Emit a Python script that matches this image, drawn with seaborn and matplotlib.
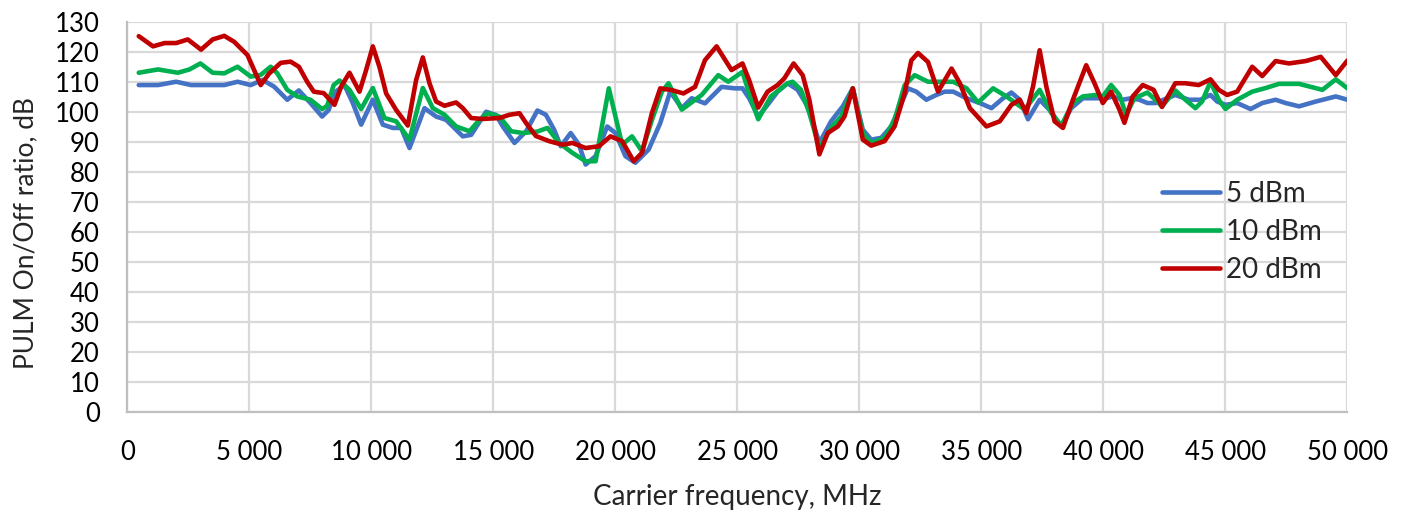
import pandas as pd
import matplotlib.pyplot as plt
import seaborn as sns

# values (frequency in MHz, ratio in dB)
freq_5 = [462, 1250, 1997, 2609, 3967, 4511, 5054, 5530, 6005, 6549, 7024, 7500, 7976, 8247,
          8484, 8893, 9235, 9576, 10055, 10464, 10874, 11216, 11557, 12172, 12650, 13060,
          13743, 14085, 14699, 15109, 15383, 15861, 16339, 16800, 17147, 17486, 17758, 18166,
          18505, 18777, 19185, 19660, 20000, 20408, 20815, 21359, 21834, 22242, 22717, 23125,
          23668, 24348, 24891, 25205, 25479, 25849, 26233, 26644, 27055, 27466, 27877, 28356,
          28836, 29315, 29726, 30137, 30479, 30890, 31301, 31712, 31986, 32329, 32740, 33151,
          33493, 33842, 34387, 34932, 35409, 35886, 36226, 36567, 36907, 37384, 37793, 38270,
          38678, 39155, 39700, 40109, 40381, 40790, 41131, 41471, 41800, 42123, 42945, 43493,
          43973, 44384, 44658, 45000, 45479, 46027, 46507, 47055, 47466, 48014, 48699, 49521,
          50000]
ratio_5 = [109, 109, 110.1, 109, 109, 110.1, 109, 110.7, 108.5, 104.1, 107.2, 103, 98.5, 100.7,
           106.5, 109, 103, 95.8, 104.1, 95.8, 94.7, 94.7, 88, 101.3, 98.5, 97.4,
           91.9, 92.4, 100.1, 99, 95.2, 89.7, 93.6, 100.5, 99.1, 94.1, 88.6, 93,
           89.1, 82.5, 85.3, 95.2, 93, 85.3, 83.1, 87.5, 96.3, 106.8, 101.3, 104.6,
           102.9, 108.4, 107.9, 107.9, 104.6, 98.5, 102.4, 106.8, 109.6, 107.4, 101.9, 89.7,
           96.9, 101.9, 107.9, 94.1, 90.8, 91.4, 95.2, 103, 107.9, 106.8, 104.1, 105.7,
           106.8, 106.8, 104.6, 103, 101.3, 104.6, 106.5, 104.1, 97.6, 104.1, 100.7, 95.2,
           101.3, 104.6, 104.6, 104.6, 105.2, 104.1, 104.6, 104.1, 103, 103, 105.7, 104.1,
           104.1, 105.7, 103.5, 102.4, 103, 101, 103, 104.1, 103, 101.9, 103.5, 105.2,
           104.1]

freq_10 = [462, 1250, 2065, 2541, 2989, 3492, 3967, 4511, 5054, 5462, 5870, 6141, 6549, 6957,
           7500, 7976, 8179, 8451, 8689, 9098, 9576, 10055, 10533, 11011, 11557, 12104, 12514,
           12992, 13470, 14016, 14426, 14768, 15246, 15724, 16202, 16800, 17215, 17690, 18234,
           18777, 19185, 19728, 20272, 20679, 21087, 21495, 21902, 22174, 22717, 23533, 24212,
           24620, 25205, 25479, 25849, 26370, 27055, 27260, 27603, 27945, 28356, 28836, 29247,
           29726, 30137, 30479, 31027, 31438, 31849, 32260, 32808, 33493, 33842, 34387, 34864,
           35477, 36022, 36771, 37384, 37861, 38270, 38747, 39155, 39700, 39973, 40313, 40654,
           40926, 41267, 41800, 42055, 42397, 42945, 43356, 43767, 44041, 44384, 44726, 45000,
           45479, 46096, 46644, 47192, 48014, 48973, 49521, 50000]
ratio_10 = [113.1, 114.2, 113.1, 114.2, 116.2, 113.1, 112.9, 115.1, 111.8, 112.4, 115.1, 112.9,
            107.4, 105.2, 104.1, 101, 102, 109, 110.5, 107.4, 101, 108, 98, 96.9, 90.8, 108,
            101.3, 99.1, 95.2, 93.6, 97.4, 99.6, 98.5, 93.6, 93, 93.5, 94.7, 89.7, 86.4,
            83.6, 83.6, 107.9, 89.1, 91.9, 86.9, 97.4, 106.8, 109.6, 100.8, 105.7, 112.3,
            110.1, 113.4, 106.2, 97.6, 105.2, 109.6, 110.1, 107.4, 99.7, 88, 94.7, 98.5,
            107.9, 93, 89.7, 91.4, 97.4, 108.9, 112.3, 110.1, 110.1, 110.1, 107.9, 103.2,
            107.9, 105.2, 100.8, 107.4, 99.7, 95.5, 103, 105.2, 105.7, 105.2, 109, 105.7,
            99.1, 104.6, 106.5, 104.6, 101.9, 107.2, 104.1, 101.3, 103.5, 110.1, 104.1, 101,
            104.1, 106.8, 108, 109.4, 109.4, 107.4, 110.9, 107.9]

freq_20 = [462, 1046, 1522, 1997, 2473, 3016, 3492, 3967, 4375, 4918, 5190, 5462, 5802, 6277,
           6685, 7024, 7364, 7636, 8043, 8484, 8757, 9098, 9508, 9781, 10055, 10328, 10601,
           11011, 11489, 11831, 12104, 12377, 12650, 12992, 13470, 13743, 14085, 14563, 15246,
           15656, 16066, 16339, 16739, 17283, 17826, 18234, 18777, 19321, 19796, 20272, 20747,
           21087, 21495, 21834, 22310, 22785, 23261, 23668, 24144, 24755, 25205, 25479, 25849,
           26233, 26644, 26918, 27301, 27671, 27945, 28356, 28699, 29110, 29384, 29726, 30137,
           30479, 31027, 31438, 31849, 32123, 32397, 32808, 33219, 33774, 34114, 34523, 35204,
           35749, 36226, 36567, 36839, 37112, 37384, 37657, 37997, 38338, 38747, 39292, 39632,
           39973, 40313, 40654, 40858, 41199, 41608, 42055, 42397, 42945, 43356, 43904, 44384,
           44726, 45068, 45479, 46096, 46507, 47055, 47603, 48288, 48904, 49521, 50000]
ratio_20 = [125.3, 121.9, 123, 123, 124.2, 120.8, 124.2, 125.4, 123.4, 119, 114, 109, 112.8, 116.4,
            116.8, 115.1, 110.1, 106.8, 106.3, 102.4, 108.5, 113.1, 106.8, 114, 121.9, 115, 106.2,
            100.7, 95.5, 110.7, 118.2, 109.6, 103.5, 102.1, 103.2, 101.3, 98, 97.7, 98,
            99.1, 99.6, 96.3, 92, 90.3, 89.1, 89.7, 88, 88.6, 91.9, 90.3, 83.6,
            86.4, 99.7, 107.9, 107.3, 106.2, 108.4, 117.3, 121.9, 114, 116.2, 110.6, 101.5,
            106.8, 109, 111.2, 116.2, 112.3, 104.1, 85.9, 93, 95.2, 98.5, 107.9, 90.8,
            88.8, 90.3, 95.2, 106.2, 117.2, 119.7, 116.7, 106.8, 114.5, 109.6, 101.3, 95.2,
            96.9, 102.4, 104.1, 99.7, 108.5, 120.6, 108.5, 96.9, 94.7, 104.1, 115.6, 109.6,
            103, 106.8, 100.8, 96.4, 105.2, 109, 107.4, 101.7, 109.6, 109.6, 109, 110.9,
            107.4, 105.7, 106.8, 115.1, 112, 117, 116.2, 117, 118.4, 112.3, 117.2]

series_names = ['5 dBm', '10 dBm', '20 dBm']
series_colors = ['#4472C4', '#00B050', '#C00000']
y_ticks = list(range(0, 131, 10))
x_ticks = list(range(0, 50001, 5000))

frames = []
for name, fx, fy in zip(series_names, [freq_5, freq_10, freq_20], [ratio_5, ratio_10, ratio_20]):
    frames.append(pd.DataFrame({'freq': fx, 'ratio': fy, 'power': name}))
df = pd.concat(frames, ignore_index=True)

sns.set_style('white')
plt.rcParams['font.family'] = ['Lato', 'DejaVu Sans']

fig = plt.figure(figsize=(14.07, 5.30), dpi=100)
ax = fig.add_axes([0.0906, 0.2226, 0.8671, 0.7358])

sns.lineplot(data=df, x='freq', y='ratio', hue='power', hue_order=series_names,
             palette=dict(zip(series_names, series_colors)), estimator=None,
             linewidth=3.3, ax=ax)
for line in ax.get_lines():
    line.set_solid_joinstyle('round')
    line.set_solid_capstyle('round')

ax.set_xlim(0, 50000)
ax.set_ylim(0, 130)
ax.set_xticks(x_ticks)
ax.set_xticklabels([f'{v:,}'.replace(',', ' ') for v in x_ticks])
ax.set_yticks(y_ticks)
ax.grid(True, color='#D9D9D9', linewidth=1.6)
ax.set_axisbelow(True)
for side in ['top', 'right']:
    ax.spines[side].set_visible(False)
for side in ['left', 'bottom']:
    ax.spines[side].set_color('#BFBFBF')
    ax.spines[side].set_linewidth(1.6)
ax.tick_params(axis='both', length=0, labelsize=18.5, pad=20, colors='black')

ax.set_xlabel('Carrier frequency, MHz', fontsize=20, labelpad=14)
ax.set_ylabel('PULM On/Off ratio, dB', fontsize=19)
ax.yaxis.set_label_coords(-0.0734, 0.46)

leg = ax.legend(loc='upper left', bbox_to_anchor=(0.848, 0.593), frameon=False,
                fontsize=20, handlelength=2.1, handletextpad=0.2, labelspacing=0.43,
                borderpad=0, borderaxespad=0)
for h in leg.get_lines():
    h.set_linewidth(3.3)

fig.savefig('out.png', dpi=100)
